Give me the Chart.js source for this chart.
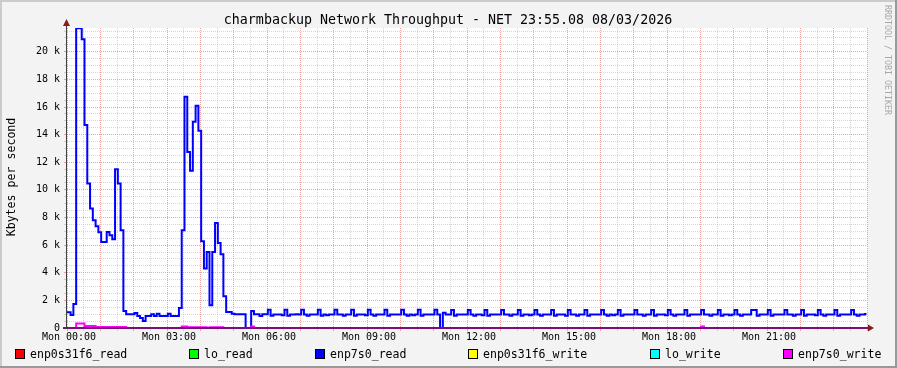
<!DOCTYPE html>
<html>
<head>
<meta charset="utf-8">
<script src="https://cdn.jsdelivr.net/npm/chart.js"></script>
<style>
html,body{margin:0;padding:0;background:#f3f3f3;overflow:hidden;}
#wrap{width:897px;height:368px;position:relative;}
canvas{display:block;}
</style>
</head>
<body>
<div id="wrap"><canvas id="c" width="897" height="368"></canvas></div>
<script>
// ---------------- data ----------------
const chartTitle = "charmbackup Network Throughput - NET 23:55.08 08/03/2026";
const yAxisTitle = "Kbytes per second";
const watermarkText = "RRDTOOL / TOBI OETIKER";

const seriesNames = ["enp0s31f6_read", "lo_read", "enp7s0_read", "enp0s31f6_write", "lo_write", "enp7s0_write"];
const seriesColors = ["#ff0000", "#00ff00", "#0000ff", "#ffff00", "#00ffff", "#ff00ff"];

// x axis in minutes since Mon 00:00
const xTickMinutes = [0, 180, 360, 540, 720, 900, 1080, 1260];
const xTickLabels = ["Mon 00:00", "Mon 03:00", "Mon 06:00", "Mon 09:00", "Mon 12:00", "Mon 15:00", "Mon 18:00", "Mon 21:00"];
// y axis in kbytes/s
const yTickValues = [0, 2, 4, 6, 8, 10, 12, 14, 16, 18, 20];
const yTickLabels = ["0", "2 k", "4 k", "6 k", "8 k", "10 k", "12 k", "14 k", "16 k", "18 k", "20 k"];

// 5-minute samples (288 per day), kbytes per second
const enp7s0_read = [
  1.14, 0.94, 1.74, 21.7, 21.7, 20.9, 14.7, 10.46, 8.65, 7.8, 7.37, 6.93,
  6.23, 6.23, 6.95, 6.72, 6.43, 11.5, 10.46, 7.08, 1.23, 0.99, 0.99, 0.99,
  1.09, 0.87, 0.72, 0.5, 0.87, 0.87, 0.99, 0.87, 1.04, 0.87, 0.87, 0.87,
  1.04, 0.87, 0.87, 0.87, 1.45, 7.08, 16.74, 12.75, 11.38, 14.93, 16.09, 14.28,
  6.28, 4.3, 5.51, 1.64, 5.51, 7.61, 6.16, 5.34, 2.3, 1.16, 1.16, 1.04,
  0.99, 0.99, 0.99, 0.99, 0, 0, 1.23, 0.99, 0.99, 0.87, 0.99, 0.99,
  1.32, 0.88, 0.97, 0.97, 0.97, 0.93,
  1.32, 0.88, 0.97, 0.97, 0.99, 0.97,
  1.32, 0.97, 0.88, 0.97, 0.97, 0.97,
  1.32, 0.88, 0.97, 0.93, 0.97, 0.97,
  1.32, 0.97, 0.97, 0.88, 0.97, 0.97,
  1.32, 0.88, 0.97, 0.97, 0.97, 0.93,
  1.32, 0.97, 0.88, 0.97, 0.97, 0.97,
  1.32, 0.88, 0.97, 0.97, 0.97, 0.97,
  1.32, 0.97, 0.88, 0.97, 0.93, 0.97,
  1.32, 0.88, 0.97, 0.97, 0.97, 0.97,
  1.32, 0.97, 0.00, 1.10, 0.97, 0.97,
  1.30, 0.88, 0.97, 0.97, 0.97, 0.97,
  1.30, 0.97, 0.88, 0.97, 0.97, 0.93,
  1.30, 0.88, 0.97, 0.97, 0.97, 0.97,
  1.30, 0.97, 0.97, 0.88, 0.97, 0.97,
  1.30, 0.88, 0.97, 0.97, 0.93, 0.97,
  1.30, 0.97, 0.88, 0.97, 0.97, 0.97,
  1.30, 0.88, 0.97, 0.97, 0.97, 0.88,
  1.30, 0.97, 0.97, 0.88, 0.97, 0.97,
  1.30, 0.88, 0.97, 0.97, 0.97, 0.97,
  1.30, 0.97, 0.88, 0.97, 0.93, 0.97,
  1.30, 0.88, 0.97, 0.97, 0.97, 0.97,
  1.30, 0.97, 0.97, 0.88, 0.97, 0.97,
  1.30, 0.88, 0.97, 0.97, 0.97, 0.93,
  1.30, 0.97, 0.88, 0.97, 0.97, 0.97,
  1.30, 0.88, 0.97, 0.97, 0.97, 0.97,
  1.30, 0.97, 0.97, 0.88, 0.97, 0.97,
  1.30, 0.88, 0.97, 0.97, 0.93, 0.97,
  1.30, 0.97, 0.88, 0.97, 0.97, 0.97,
  1.30, 1.30, 0.88, 0.97, 0.97, 0.97,
  1.30, 0.88, 0.97, 0.97, 0.97, 0.97,
  1.30, 0.97, 0.97, 0.88, 0.97, 0.97,
  1.30, 0.88, 0.97, 0.97, 0.97, 0.93,
  1.30, 0.97, 0.88, 0.97, 0.97, 0.97,
  1.30, 0.88, 0.97, 0.97, 0.97, 0.97,
  1.30, 0.97, 0.88, 0.97, 0.97, 1.02
];

const enp7s0_write = [
  0, 0, 0, 0.32, 0.32, 0.32, 0.15, 0.15, 0.15, 0.15, 0.07, 0.07,
  0.07, 0.07, 0.07, 0.07, 0.07, 0.07, 0.07, 0.07, 0.07, 0, 0, 0,
  0, 0, 0, 0, 0, 0, 0, 0, 0, 0, 0, 0,
  0, 0, 0, 0, 0, 0.1, 0.1, 0.05, 0.05, 0.05, 0.05, 0.05,
  0.05, 0.05, 0, 0.05, 0.05, 0.05, 0.05, 0.05, 0, 0, 0, 0,
  0, 0, 0, 0, 0, 0, 0.1, 0, 0, 0, 0, 0,
  0, 0, 0, 0, 0, 0, 0, 0, 0, 0, 0, 0,
  0, 0, 0, 0, 0, 0, 0, 0, 0, 0, 0, 0,
  0, 0, 0, 0, 0, 0, 0, 0, 0, 0, 0, 0,
  0, 0, 0, 0, 0, 0, 0, 0, 0, 0, 0, 0,
  0, 0, 0, 0, 0, 0, 0, 0, 0, 0, 0, 0,
  0, 0, 0, 0, 0, 0, 0, 0, 0, 0, 0, 0,
  0, 0, 0, 0, 0, 0, 0, 0, 0, 0, 0, 0,
  0, 0, 0, 0, 0, 0, 0, 0, 0, 0, 0, 0,
  0, 0, 0, 0, 0, 0, 0, 0, 0, 0, 0, 0,
  0, 0, 0, 0, 0, 0, 0, 0, 0, 0, 0, 0,
  0, 0, 0, 0, 0, 0, 0, 0, 0, 0, 0, 0,
  0, 0, 0, 0, 0, 0, 0, 0, 0, 0, 0, 0,
  0, 0, 0, 0, 0, 0, 0, 0, 0, 0, 0, 0,
  0.1, 0, 0, 0, 0, 0, 0, 0, 0, 0, 0, 0,
  0, 0, 0, 0, 0, 0, 0, 0, 0, 0, 0, 0,
  0, 0, 0, 0, 0, 0, 0, 0, 0, 0, 0, 0,
  0, 0, 0, 0, 0, 0, 0, 0, 0, 0, 0, 0,
  0, 0, 0, 0, 0, 0, 0, 0, 0, 0, 0, 0
];

// interfaces that stayed at zero all day
const enp0s31f6_read = new Array(288).fill(0);
const lo_read = new Array(288).fill(0);
const enp0s31f6_write = new Array(288).fill(0);
const lo_write = new Array(288).fill(0);

const sampleMinutes = 5;
const sampleShift = 1.5;   // rrd sample boundaries sit slightly after the 5-min marks
const dayMinutes = 1440;

// ---------------- chart ----------------
function toPoints(vals) {
  const pts = vals.map((v, i) => ({ x: i === 0 ? 0 : i * sampleMinutes + sampleShift, y: v }));
  pts.push({ x: dayMinutes - 1, y: vals[vals.length - 1] });
  return pts;
}

const seriesValues = [enp0s31f6_read, lo_read, enp7s0_read, enp0s31f6_write, lo_write, enp7s0_write];

const FONT = "'DejaVu Sans Mono', 'Liberation Mono', monospace";
const MAJOR = "rgba(240,130,130,0.75)";
const MINOR = "rgba(170,170,170,0.48)";

const datasets = seriesNames.map((name, k) => ({
  label: name,
  data: toPoints(seriesValues[k]),
  borderColor: seriesColors[k],
  backgroundColor: seriesColors[k],
  borderWidth: 2,
  pointRadius: 0,
  pointHoverRadius: 0,
  stepped: true,
  fill: false,
  tension: 0,
  order: seriesNames.length - 1 - k
}));

const decor = {
  id: 'rrdDecor',
  beforeDraw(chart) {
    const ctx = chart.ctx, W = chart.width, H = chart.height, a = chart.chartArea;
    ctx.save();
    ctx.fillStyle = '#f3f3f3';
    ctx.fillRect(0, 0, W, H);
    // shading border
    ctx.fillStyle = '#cbcbcb';
    ctx.fillRect(0, 0, W, 2);
    ctx.fillRect(0, 0, 2, H);
    ctx.fillStyle = '#999999';
    ctx.fillRect(0, H - 2, W, 2);
    ctx.fillRect(W - 2, 0, 2, H);
    // canvas
    ctx.fillStyle = '#ffffff';
    ctx.fillRect(a.left, a.top, a.right - a.left, a.bottom - a.top);
    ctx.restore();
  },
  afterDatasetsDraw(chart) {
    const ctx = chart.ctx, a = chart.chartArea;
    ctx.save();
    // x axis
    ctx.fillStyle = '#7a0f7a';
    ctx.fillRect(a.left - 4, a.bottom - 1, a.right - a.left + 5, 2);
    // y axis
    ctx.fillStyle = '#404040';
    ctx.fillRect(a.left - 1, a.top - 5, 1, a.bottom - a.top + 6);
    // arrows
    ctx.fillStyle = '#8b1a1a';
    ctx.beginPath();
    ctx.moveTo(a.left - 0.5, a.top - 9);
    ctx.lineTo(a.left + 3, a.top - 2);
    ctx.lineTo(a.left - 4, a.top - 2);
    ctx.closePath();
    ctx.fill();
    ctx.beginPath();
    ctx.moveTo(a.right + 7, a.bottom);
    ctx.lineTo(a.right + 1, a.bottom - 3.5);
    ctx.lineTo(a.right + 1, a.bottom + 3.5);
    ctx.closePath();
    ctx.fill();
    ctx.restore();
  },
  afterDraw(chart) {
    const ctx = chart.ctx;
    ctx.save();
    // title
    ctx.fillStyle = '#000';
    ctx.font = "13.3px " + FONT;
    ctx.textAlign = 'center';
    ctx.textBaseline = 'alphabetic';
    ctx.fillText(chartTitle, 448, 24);
    // y axis title
    ctx.save();
    ctx.translate(15, 177);
    ctx.rotate(-Math.PI / 2);
    ctx.font = "11.6px " + FONT;
    ctx.textAlign = 'center';
    ctx.fillText(yAxisTitle, 0, 0);
    ctx.restore();
    // watermark
    ctx.save();
    ctx.translate(885, 5);
    ctx.rotate(Math.PI / 2);
    ctx.font = "8.3px " + FONT;
    ctx.fillStyle = '#a8a8a8';
    ctx.textAlign = 'left';
    ctx.textBaseline = 'alphabetic';
    ctx.fillText(watermarkText, 0, 0);
    ctx.restore();
    // legend
    const boxX = [15, 189, 315, 468, 650, 783];
    ctx.font = "11.55px " + FONT;
    ctx.textAlign = 'left';
    ctx.textBaseline = 'middle';
    chart.data.datasets.forEach((ds, k) => {
      const x = boxX[k];
      ctx.fillStyle = '#000';
      ctx.fillRect(x, 349, 10, 10);
      ctx.fillStyle = ds.borderColor;
      ctx.fillRect(x + 1, 350, 8, 8);
      ctx.fillStyle = '#000';
      ctx.fillText(ds.label, x + 15, 354.5);
    });
    ctx.restore();
  }
};

function isMultiple(v, m) {
  const r = Math.abs(v / m - Math.round(v / m));
  return r < 1e-6;
}

new Chart(document.getElementById('c'), {
  type: 'line',
  data: { datasets },
  plugins: [decor],
  options: {
    responsive: false,
    animation: false,
    devicePixelRatio: 1,
    events: [],
    layout: { padding: { left: 0, top: 28, right: 30, bottom: 0 } },
    plugins: { legend: { display: false }, title: { display: false }, tooltip: { enabled: false } },
    scales: {
      x: {
        type: 'linear',
        min: 0,
        max: dayMinutes,
        afterFit(s) { s.height = 40; },
        border: { display: false, dash: [1, 1] },
        grid: {
          lineWidth: 1,
          color: c => (c.tick && isMultiple(c.tick.value, 60)) ? MAJOR : MINOR,
          tickColor: c => (c.tick && isMultiple(c.tick.value, 60)) ? MAJOR : MINOR,
          tickLength: 3,
          drawTicks: true
        },
        ticks: {
          stepSize: 30,
          autoSkip: false,
          includeBounds: false,
          maxRotation: 0,
          minRotation: 0,
          padding: 0.5,
          labelOffset: 2,
          color: '#000',
          font: { family: FONT, size: 10 },
          callback: v => {
            const k = xTickMinutes.findIndex(m => Math.abs(m - v) < 1e-6);
            return k >= 0 ? xTickLabels[k] : '';
          }
        }
      },
      y: {
        type: 'linear',
        min: 0,
        max: 21.72,
        afterFit(s) { s.width = 67; },
        border: { display: false, dash: [1, 1] },
        grid: {
          lineWidth: 1,
          color: c => (c.tick && isMultiple(c.tick.value, 2)) ? MAJOR : MINOR,
          tickColor: c => (c.tick && isMultiple(c.tick.value, 2)) ? MAJOR : MINOR,
          tickLength: 3,
          drawTicks: true
        },
        ticks: {
          stepSize: 0.5,
          autoSkip: false,
          includeBounds: false,
          padding: 4,
          color: '#000',
          font: { family: FONT, size: 10 },
          callback: v => {
            const k = yTickValues.findIndex(m => Math.abs(m - v) < 1e-6);
            return k >= 0 ? yTickLabels[k] : '';
          }
        }
      }
    }
  }
});
</script>
</body>
</html>
